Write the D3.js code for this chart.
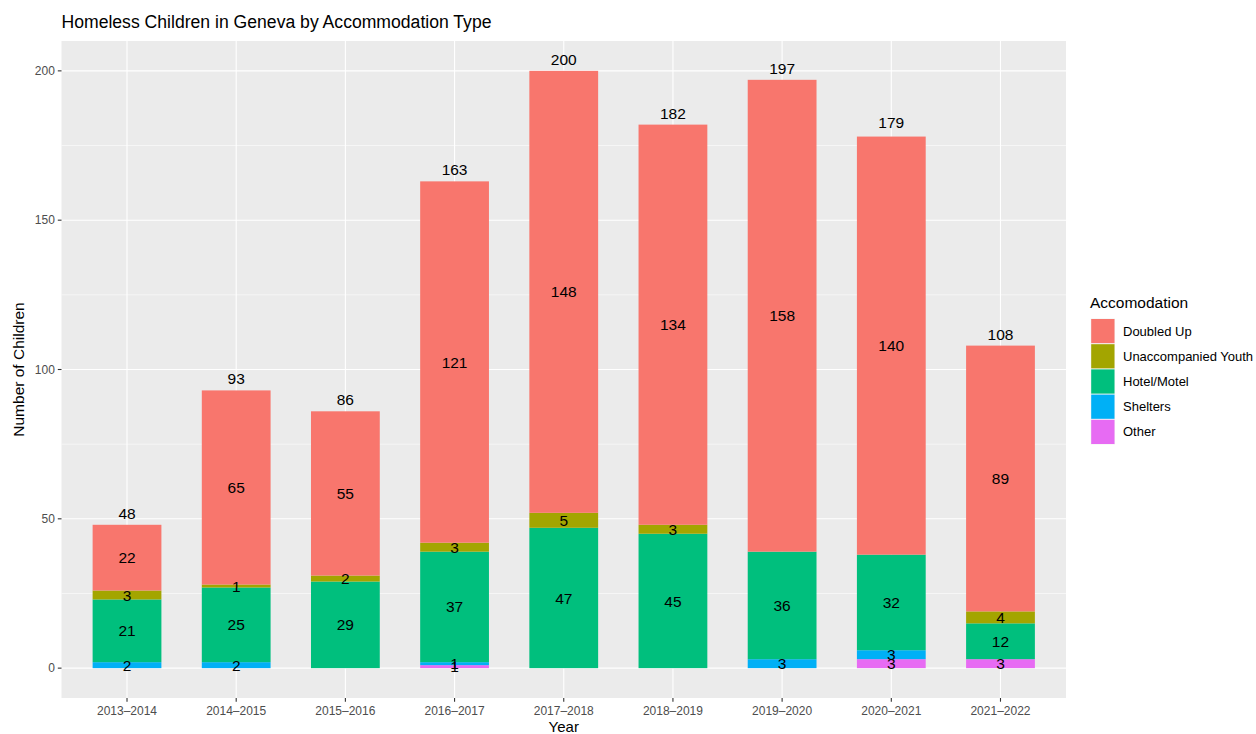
<!DOCTYPE html>
<html>
<head>
<meta charset="utf-8">
<script src="https://cdn.jsdelivr.net/npm/d3@7"></script>
<style>
  body { margin: 0; background: #fff; }
  svg { font-family: "Liberation Sans", Arial, sans-serif; display: block; }
</style>
</head>
<body>
<svg id="chart" width="1256" height="734"></svg>
<script>
// ---- Data ----
const years = ["2013–2014","2014–2015","2015–2016","2016–2017","2017–2018","2018–2019","2019–2020","2020–2021","2021–2022"];
const doubledUp     = [22, 65, 55, 121, 148, 134, 158, 140, 89];
const unaccompanied = [3, 1, 2, 3, 5, 3, 0, 0, 4];
const hotelMotel    = [21, 25, 29, 37, 47, 45, 36, 32, 12];
const shelters      = [2, 2, 0, 1, 0, 0, 3, 3, 0];
const other         = [0, 0, 0, 1, 0, 0, 0, 3, 3];
const totals        = [48, 93, 86, 163, 200, 182, 197, 179, 108];
const yTicks        = [0, 50, 100, 150, 200];
const yMinorTicks   = [25, 75, 125, 175];

const seriesNames  = ["Doubled Up", "Unaccompanied Youth", "Hotel/Motel", "Shelters", "Other"];
const seriesValues = [doubledUp, unaccompanied, hotelMotel, shelters, other];
const seriesColors = ["#F8766D", "#A3A500", "#00BF7D", "#00B0F6", "#E76BF3"];

// ---- Layout ----
const svg = d3.select("#chart");
const panel = { left: 61.5, right: 1066, top: 41, bottom: 698 };

const n = years.length;
const x = d3.scaleLinear().domain([0.4, n + 0.6]).range([panel.left, panel.right]);
const y = d3.scaleLinear().domain([-10, 210]).range([panel.bottom, panel.top]);
const step = x(2) - x(1);
const barW = 0.63 * step;

// panel background
svg.append("rect")
  .attr("x", panel.left).attr("y", panel.top)
  .attr("width", panel.right - panel.left).attr("height", panel.bottom - panel.top)
  .attr("fill", "#EBEBEB");

// minor gridlines
svg.append("g").selectAll("line").data(yMinorTicks).join("line")
  .attr("x1", panel.left).attr("x2", panel.right)
  .attr("y1", d => y(d)).attr("y2", d => y(d))
  .attr("stroke", "#fff").attr("stroke-width", 0.55);

// major gridlines
svg.append("g").selectAll("line").data(yTicks).join("line")
  .attr("x1", panel.left).attr("x2", panel.right)
  .attr("y1", d => y(d)).attr("y2", d => y(d))
  .attr("stroke", "#fff").attr("stroke-width", 1.1);
svg.append("g").selectAll("line").data(years).join("line")
  .attr("x1", (d, i) => x(i + 1)).attr("x2", (d, i) => x(i + 1))
  .attr("y1", panel.top).attr("y2", panel.bottom)
  .attr("stroke", "#fff").attr("stroke-width", 1.1);

// ---- Stack ----
// bottom-to-top order: Other, Shelters, Hotel/Motel, Unaccompanied, Doubled Up
const stackOrder = [4, 3, 2, 1, 0];
const segments = [];
years.forEach((yr, i) => {
  let base = 0;
  stackOrder.forEach(s => {
    const v = seriesValues[s][i];
    if (v > 0) {
      segments.push({ i, s, y0: base, y1: base + v, v });
    }
    base += v;
  });
});

svg.append("g").selectAll("rect").data(segments).join("rect")
  .attr("x", d => x(d.i + 1) - barW / 2)
  .attr("width", barW)
  .attr("y", d => y(d.y1))
  .attr("height", d => y(d.y0) - y(d.y1))
  .attr("fill", d => seriesColors[d.s]);

// segment labels
svg.append("g").selectAll("text").data(segments).join("text")
  .attr("x", d => x(d.i + 1))
  .attr("y", d => y((d.y0 + d.y1) / 2))
  .attr("dy", "0.36em")
  .attr("text-anchor", "middle")
  .attr("font-size", 15.5)
  .attr("fill", "#000")
  .text(d => d.v);

// total labels
svg.append("g").selectAll("text").data(totals).join("text")
  .attr("x", (d, i) => x(i + 1))
  .attr("y", d => y(d) - 6)
  .attr("text-anchor", "middle")
  .attr("font-size", 15.5)
  .attr("fill", "#000")
  .text(d => d);

// ---- Axes ----
const yAxis = svg.append("g");
yAxis.selectAll("line").data(yTicks).join("line")
  .attr("x1", panel.left - 3.7).attr("x2", panel.left)
  .attr("y1", d => y(d)).attr("y2", d => y(d))
  .attr("stroke", "#333").attr("stroke-width", 1.1);
yAxis.selectAll("text").data(yTicks).join("text")
  .attr("x", panel.left - 6.6)
  .attr("y", d => y(d))
  .attr("dy", "0.35em")
  .attr("text-anchor", "end")
  .attr("font-size", 12)
  .attr("fill", "#4D4D4D")
  .text(d => d);

const xAxis = svg.append("g");
xAxis.selectAll("line").data(years).join("line")
  .attr("x1", (d, i) => x(i + 1)).attr("x2", (d, i) => x(i + 1))
  .attr("y1", panel.bottom).attr("y2", panel.bottom + 3.7)
  .attr("stroke", "#333").attr("stroke-width", 1.1);
xAxis.selectAll("text").data(years).join("text")
  .attr("x", (d, i) => x(i + 1))
  .attr("y", panel.bottom + 17)
  .attr("text-anchor", "middle")
  .attr("font-size", 12)
  .attr("fill", "#4D4D4D")
  .text(d => d);

// axis titles
svg.append("text")
  .attr("x", (panel.left + panel.right) / 2)
  .attr("y", 732)
  .attr("text-anchor", "middle")
  .attr("font-size", 15)
  .attr("fill", "#000")
  .text("Year");

svg.append("text")
  .attr("transform", `translate(24, ${(panel.top + panel.bottom) / 2}) rotate(-90)`)
  .attr("text-anchor", "middle")
  .attr("font-size", 15.5)
  .attr("fill", "#000")
  .text("Number of Children");

// title
svg.append("text")
  .attr("x", panel.left)
  .attr("y", 28)
  .attr("font-size", 17.6)
  .attr("fill", "#000")
  .text("Homeless Children in Geneva by Accommodation Type");

// ---- Legend ----
const lg = svg.append("g");
lg.append("text")
  .attr("x", 1090).attr("y", 308)
  .attr("font-size", 15.5)
  .attr("fill", "#000")
  .text("Accomodation");
const keyTop = 318.5, keyH = 25.2, keyW = 24.3;
seriesNames.forEach((name, k) => {
  lg.append("rect")
    .attr("x", 1090.7).attr("y", keyTop + k * keyH)
    .attr("width", keyW).attr("height", keyH)
    .attr("fill", "#F2F2F2");
  lg.append("rect")
    .attr("x", 1091.2).attr("y", keyTop + k * keyH + 0.5)
    .attr("width", keyW - 1).attr("height", keyH - 1)
    .attr("fill", seriesColors[k]);
  lg.append("text")
    .attr("x", 1123).attr("y", keyTop + k * keyH + keyH / 2)
    .attr("dy", "0.35em")
    .attr("font-size", 13)
    .attr("fill", "#000")
    .text(name);
});
</script>
</body>
</html>
